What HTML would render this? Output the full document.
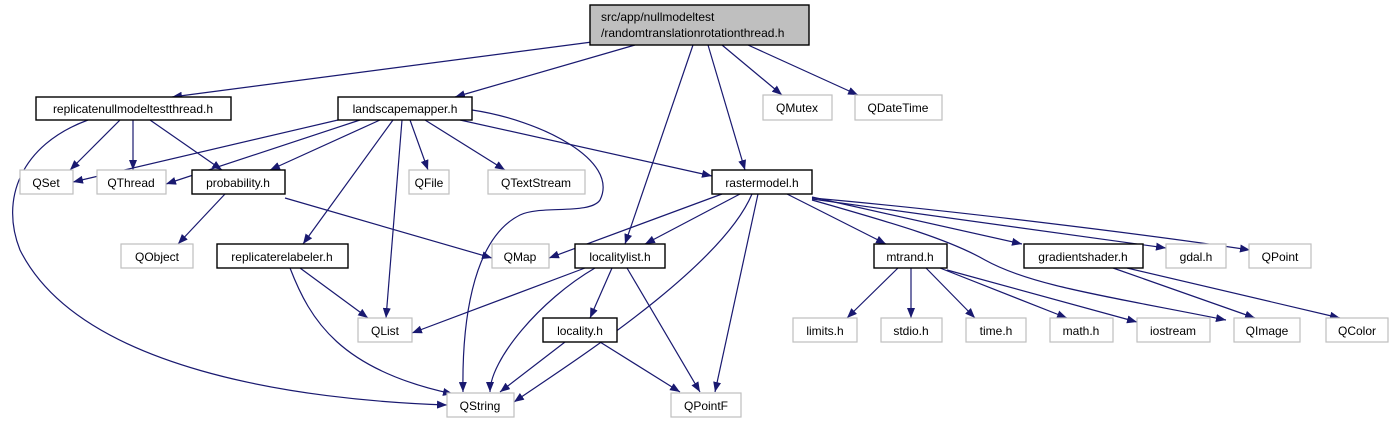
<!DOCTYPE html>
<html><head><meta charset="utf-8"><style>
body{margin:0;background:#fff;}
svg{display:block;}
text{font-family:"Liberation Sans",sans-serif;font-size:12px;fill:#000;}
.e{fill:none;stroke:#191970;stroke-width:1.2;}
.n{fill:#fff;stroke:#000;stroke-width:1.4;}
.g{fill:#fff;stroke:#bfbfbf;stroke-width:1.2;}
</style></head><body>
<svg width="1393" height="425" viewBox="0 0 1393 425">
<defs><marker id="a" markerWidth="10" markerHeight="8" refX="10" refY="4" orient="auto" markerUnits="userSpaceOnUse"><path d="M0,0L10,4L0,8z" fill="#191970"/></marker></defs>
<g class="e" marker-end="url(#a)">
<path d="M592,42L172,97"/>
<path d="M635,45L455,97"/>
<path d="M693,45L625,244"/>
<path d="M708,45L745,170"/>
<path d="M722,45L782,95"/>
<path d="M748,45L858,95"/>
<path d="M120,120L70,170"/>
<path d="M133,120L133,170"/>
<path d="M150,120L222,170"/>
<path d="M88,120C20,145 0,200 20,250C80,370 300,400 447,405"/>
<path d="M338,120L73,182"/>
<path d="M360,120L166,184"/>
<path d="M380,120L270,170"/>
<path d="M393,120L303,244"/>
<path d="M402,120L386,318"/>
<path d="M410,120L428,170"/>
<path d="M425,120L505,170"/>
<path d="M460,120L712,176"/>
<path d="M472,110C540,120 620,160 600,200C590,215 540,205 520,215C470,240 462,330 463,392"/>
<path d="M225,194L178,244"/>
<path d="M285,198L492,258"/>
<path d="M300,268L368,318"/>
<path d="M290,268C310,320 340,370 453,394"/>
<path d="M585,268L412,333"/>
<path d="M595,268C540,300 490,360 490,392"/>
<path d="M612,268L590,318"/>
<path d="M627,268L700,392"/>
<path d="M565,342L500,392"/>
<path d="M600,342L680,392"/>
<path d="M722,194L549,258"/>
<path d="M740,194L645,244"/>
<path d="M752,194C720,270 560,370 514,402"/>
<path d="M758,194L715,392"/>
<path d="M787,194L886,244"/>
<path d="M812,200C900,225 950,240 985,260C1030,285 1100,295 1226,320"/>
<path d="M812,197L1022,244"/>
<path d="M812,199L1166,248"/>
<path d="M812,198C950,210 1150,235 1250,250"/>
<path d="M898,268L847,318"/>
<path d="M911,268L911,318"/>
<path d="M926,268L975,318"/>
<path d="M940,268L1067,318"/>
<path d="M947,270L1137,322"/>
<path d="M1113,268L1255,318"/>
<path d="M1127,268L1340,318"/>
</g>
<rect x="590" y="5" width="219" height="40" fill="#bfbfbf" stroke="#000" stroke-width="1.4"/>
<text x="601" y="21">src/app/nullmodeltest</text>
<text x="601" y="37">/randomtranslationrotationthread.h</text>
<rect class="n" x="36" y="97" width="195" height="23"/><text x="133" y="113" text-anchor="middle">replicatenullmodeltestthread.h</text>
<rect class="n" x="338" y="97" width="134" height="23"/><text x="405" y="113" text-anchor="middle">landscapemapper.h</text>
<rect class="g" x="763" y="95" width="69" height="25"/><text x="797" y="112" text-anchor="middle">QMutex</text>
<rect class="g" x="855" y="95" width="87" height="25"/><text x="898" y="112" text-anchor="middle">QDateTime</text>
<rect class="g" x="20" y="170" width="53" height="24"/><text x="46" y="187" text-anchor="middle">QSet</text>
<rect class="g" x="97" y="170" width="69" height="24"/><text x="131" y="187" text-anchor="middle">QThread</text>
<rect class="n" x="192" y="170" width="93" height="24"/><text x="238" y="187" text-anchor="middle">probability.h</text>
<rect class="g" x="409" y="170" width="40" height="24"/><text x="429" y="187" text-anchor="middle">QFile</text>
<rect class="g" x="488" y="170" width="97" height="24"/><text x="536" y="187" text-anchor="middle">QTextStream</text>
<rect class="n" x="712" y="170" width="100" height="24"/><text x="762" y="187" text-anchor="middle">rastermodel.h</text>
<rect class="g" x="121" y="244" width="72" height="24"/><text x="157" y="261" text-anchor="middle">QObject</text>
<rect class="n" x="217" y="244" width="131" height="24"/><text x="282" y="261" text-anchor="middle">replicaterelabeler.h</text>
<rect class="g" x="492" y="244" width="57" height="24"/><text x="520" y="261" text-anchor="middle">QMap</text>
<rect class="n" x="575" y="244" width="90" height="24"/><text x="620" y="261" text-anchor="middle">localitylist.h</text>
<rect class="n" x="874" y="244" width="73" height="24"/><text x="910" y="261" text-anchor="middle">mtrand.h</text>
<rect class="n" x="1024" y="244" width="119" height="24"/><text x="1083" y="261" text-anchor="middle">gradientshader.h</text>
<rect class="g" x="1166" y="244" width="60" height="24"/><text x="1196" y="261" text-anchor="middle">gdal.h</text>
<rect class="g" x="1249" y="244" width="62" height="24"/><text x="1280" y="261" text-anchor="middle">QPoint</text>
<rect class="g" x="358" y="318" width="54" height="24"/><text x="385" y="335" text-anchor="middle">QList</text>
<rect class="n" x="543" y="318" width="74" height="24"/><text x="580" y="335" text-anchor="middle">locality.h</text>
<rect class="g" x="793" y="318" width="64" height="24"/><text x="825" y="335" text-anchor="middle">limits.h</text>
<rect class="g" x="881" y="318" width="61" height="24"/><text x="911" y="335" text-anchor="middle">stdio.h</text>
<rect class="g" x="966" y="318" width="60" height="24"/><text x="996" y="335" text-anchor="middle">time.h</text>
<rect class="g" x="1050" y="318" width="63" height="24"/><text x="1081" y="335" text-anchor="middle">math.h</text>
<rect class="g" x="1137" y="318" width="73" height="24"/><text x="1173" y="335" text-anchor="middle">iostream</text>
<rect class="g" x="1234" y="318" width="66" height="24"/><text x="1267" y="335" text-anchor="middle">QImage</text>
<rect class="g" x="1326" y="318" width="62" height="24"/><text x="1357" y="335" text-anchor="middle">QColor</text>
<rect class="g" x="447" y="393" width="67" height="24"/><text x="480" y="410" text-anchor="middle">QString</text>
<rect class="g" x="671" y="393" width="70" height="24"/><text x="706" y="410" text-anchor="middle">QPointF</text>
</svg>
</body></html>
